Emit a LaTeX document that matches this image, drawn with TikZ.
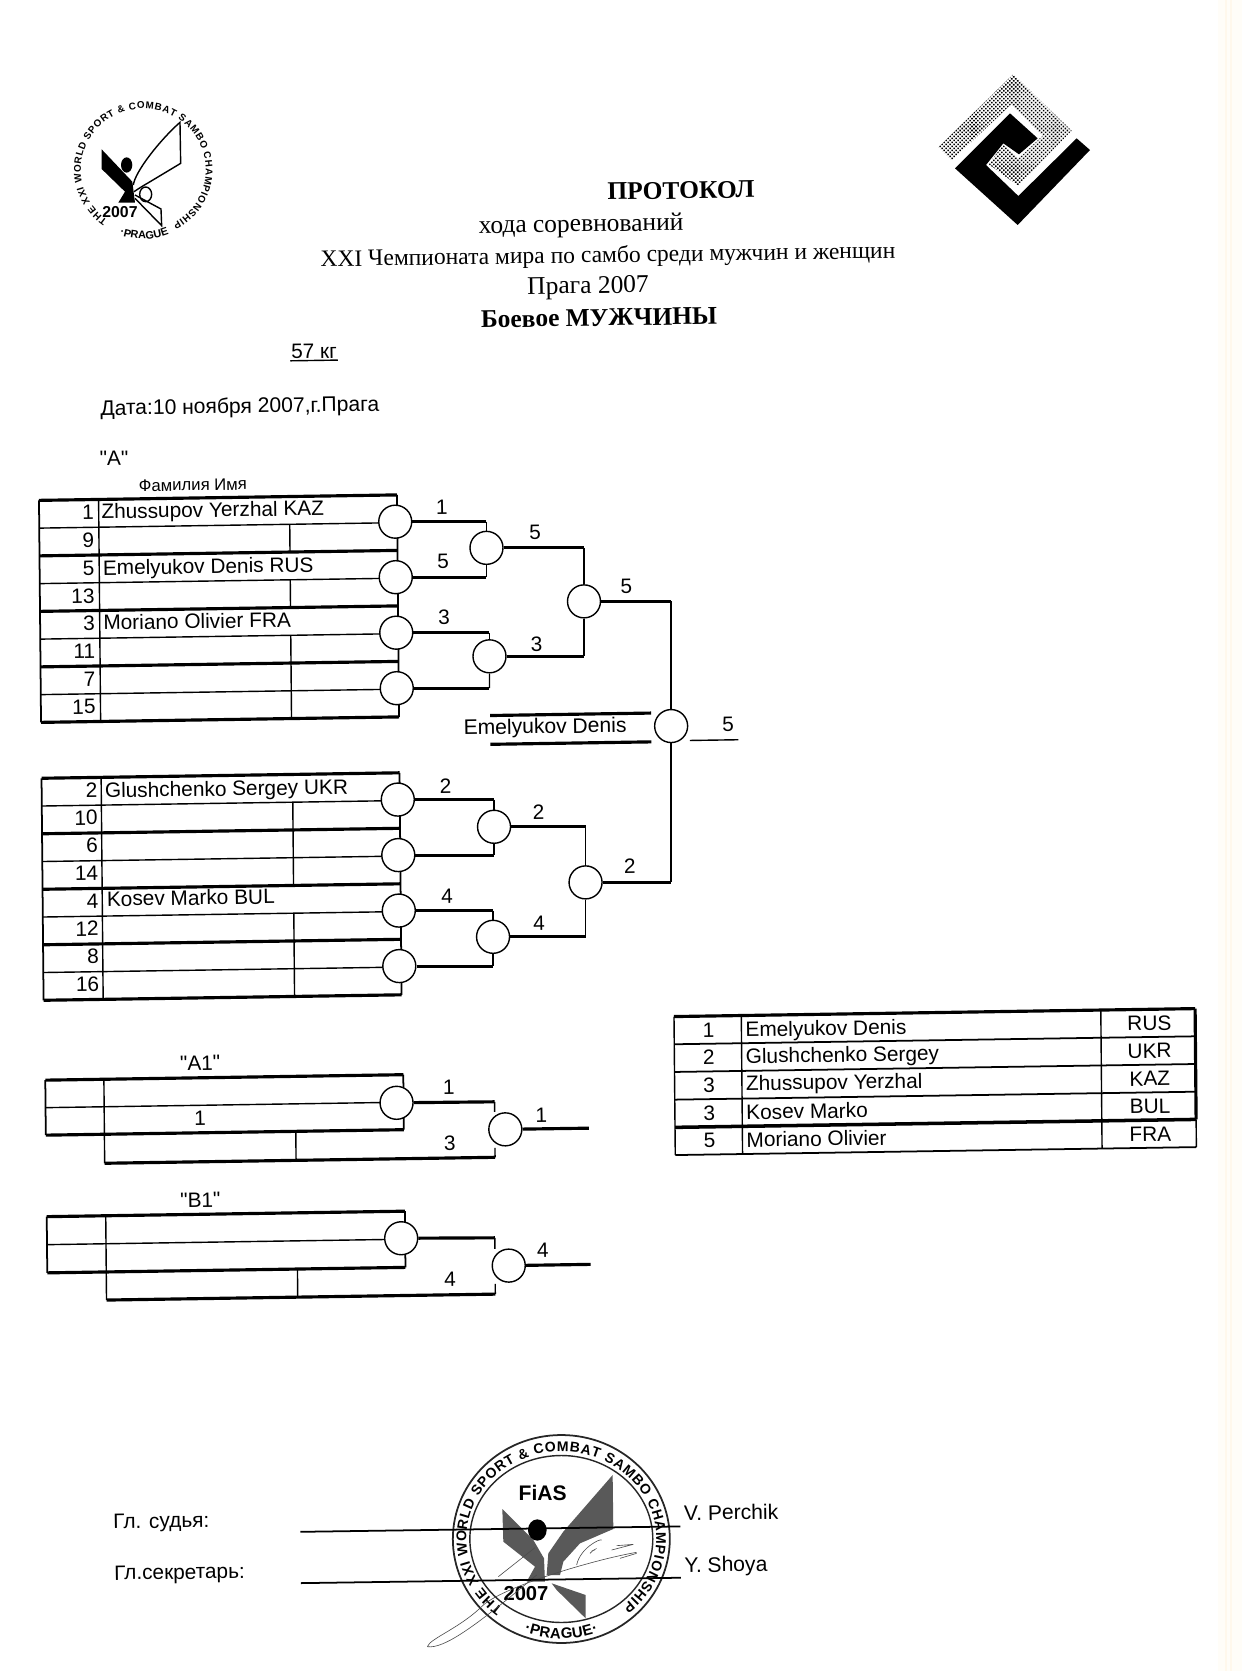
\documentclass[tikz,border=0pt]{standalone}
\usepackage{fontspec}
\defaultfontfeatures[\sffamily]{}
\setmainfont{Liberation Serif}
\setsansfont{Liberation Sans}
\usetikzlibrary{decorations.text, patterns.meta}
\definecolor{cream}{HTML}{FFFDF8}
\definecolor{creamdark}{HTML}{FFF8EC}
\tikzset{
  heavy/.style={line width=1.8pt},
  medium/.style={line width=1pt},
  hair/.style={line width=0.8pt},
  bout/.style={circle, draw, hair, fill=white, minimum size=0.66cm, inner sep=0pt},
  head/.style={font=\fontsize{14.5}{16}\selectfont, inner sep=0pt},
  headbold/.style={font=\bfseries\fontsize{14.5}{16}\selectfont, inner sep=0pt},
  lbl/.style={font=\sffamily\fontsize{11.85}{14}\selectfont, inner sep=0pt},
  wide/.style={font=\sffamily\fontsize{12}{14}\selectfont},
  seed/.style={lbl, anchor=east},
  player/.style={lbl, anchor=west},
  ringtext/.style 2 args={decorate, decoration={text along path, text={|\sffamily\bfseries\fontsize{#1}{#1}\selectfont|#2}, text align={fit to path}}},
  sign/.style={line width=0.35pt, black!70}
}

\begin{document}
\begin{tikzpicture}[x=0.02cm, y=-0.02cm]
  \useasboundingbox (0,0) rectangle (1242,1671);
  \fill[white] (0,0) rectangle (1242,1671);
  \fill[cream] (1218,0) rectangle (1242,1671);
  \fill[creamdark] (1225,0) rectangle (1227,1671);
  \fill[creamdark] (1230,0) rectangle (1232,1671);

  % left emblem
  \begin{scope}[shift={(60,95)}, x=0.00667cm, y=-0.00667cm]
    \path[ringtext={5.6}{THE XXI WORLD SPORT {\&} COMBAT SAMBO CHAMPIONSHIP}] (250,225) ++(235:1.25cm and 1.227cm) arc[start angle=235, end angle=-62, x radius=1.25cm, y radius=1.227cm];
    \path[ringtext={6.2}{·PRAGUE·}] (250,225) ++(250:1.38cm) arc[start angle=250, end angle=292, radius=1.38cm];
    \fill (125,163) -- (217,260) -- (225,323) -- (175,323) -- (195,290) -- (125,222) -- cycle;
    \fill (200,210) ellipse[x radius=0.113cm, y radius=0.153cm];
    \draw[hair] (220,270) .. controls (225,230) and (300,135) .. (360,82) -- (362,205) -- (262,265) .. controls (245,275) .. (222,290);
    \draw[hair] (257,298) ellipse[x radius=0.12cm, y radius=0.147cm];
    \draw[hair] (225,300) -- (303,342) -- (305,392) -- (225,310);
    \node[font=\sffamily\bfseries\fontsize{9}{10}\selectfont, inner sep=0pt] (year) at (180,350) {2007};
  \end{scope}

  % right emblem
  \begin{scope}[shift={(925,60)}, x=0.00667cm, y=-0.00667cm]
    \fill[pattern={Dots[distance=1.6pt, radius=0.62pt, angle=45]}] (40,262) -- (265,42) -- (440,212) -- (280,378) -- (190,312) -- (235,255) -- (280,297) -- (352,228) -- (258,133) -- (80,302) -- cycle;
    \fill (90,325) -- (255,160) -- (338,235) -- (282,283) -- (235,250) -- (183,315) -- (280,408) -- (455,235) -- (495,270) -- (278,495) -- cycle;
  \end{scope}

  % stamp
  \begin{scope}[shift={(420,1425)}, x=0.00667cm, y=-0.00667cm]
    \draw[line width=1pt, black!85] (424,342) ellipse[x radius=2.17cm, y radius=2.08cm];
    \draw[hair, black!85] (424,342) ellipse[x radius=1.83cm, y radius=1.67cm];
    \path[ringtext={8}{THE XXI WORLD SPORT {\&} COMBAT SAMBO CHAMPIONSHIP}] (424,342) ++(232:1.9cm and 1.75cm) arc[start angle=232, end angle=-50, x radius=1.9cm, y radius=1.75cm];
    \path[ringtext={8.5}{·PRAGUE·}] (424,342) ++(249:2.08cm and 1.99cm) arc[start angle=249, end angle=291, x radius=2.08cm, y radius=1.99cm];
    \fill[black!65] (247,252) -- (340,345) -- (372,400) -- (375,470) -- (320,470) -- (345,425) -- (250,350) -- cycle;
    \fill[black!65] (578,150) -- (580,312) -- (480,355) -- (430,410) -- (420,450) -- (380,450) -- (385,385) -- (430,320) -- cycle;
    \fill[black!65] (395,475) -- (497,510) -- (497,580) -- (410,495) -- cycle;
    \fill (352,315) ellipse[x radius=0.187cm, y radius=0.213cm];
    \node[font=\sffamily\bfseries\fontsize{12}{14}\selectfont, inner sep=0pt] (fias) at (368,205) {FiAS};
    \node[font=\sffamily\bfseries\fontsize{11.5}{13}\selectfont, inner sep=0pt] (stampyear) at (318,505) {2007};
    \draw[sign] (22,665) .. controls (30,640) and (120,610) .. (190,540) .. controls (260,480) and (540,400) .. (650,382);
    \draw[sign] (22,665) .. controls (70,672) and (160,610) .. (350,450);
    \draw[sign] (235,455) -- (345,368);
    \draw[sign] (470,420) .. controls (480,370) and (540,340) .. (545,345);
    \draw[sign] (510,385) .. controls (530,365) and (530,375) .. (515,378);
    \draw[sign] (575,375) -- (640,358) -- (590,362);
    \draw[sign] (600,400) -- (650,385);
  \end{scope}

  \begin{scope}[shift={(-7.5,9.3)}, x={(0.02cm,0.0003cm)}, y={(0.00018cm,-0.02cm)}, every node/.append style={rotate=0.86}]
    % titles
    \node[headbold] (title) at (686.7,191.6) {ПРОТОКОЛ};
    \node[head] (course) at (586.5,225.4) {хода соревнований};
    \node[head, font=\fontsize{13.4}{15}\selectfont] (champ) at (613,256.5) {XXI Чемпионата мира по самбо среди мужчин и женщин};
    \node[head] (city) at (593,287.5) {Прага 2007};
    \node[headbold] (kind) at (603.6,317.7) {Боевое МУЖЧИНЫ};
    \node[lbl] (weight) at (318.3,347.1) {57 кг};
    \draw[hair] (294.5,356) -- (342,356);
    \node[lbl, wide, anchor=west] (date) at (103.9,402) {Дата:10 ноября 2007,г.Прага};
    \node[lbl] (pool) at (117.4,451) {"A"};
    \node[lbl, font=\sffamily\fontsize{9.5}{11}\selectfont] (names) at (196,478.6) {Фамилия Имя};

    % the two main tables with their first bouts
    \foreach \grp/\vtop in {a/491.7, b/769.6} {
      \foreach \k in {0,2,4,6,8} \draw[heavy] (42,{\vtop+27.75*\k}) -- (400,{\vtop+27.75*\k});
      \foreach \k in {1,3,5,7} \draw[hair] (42,{\vtop+27.75*\k}) -- (400,{\vtop+27.75*\k});
      \draw[medium] (42,\vtop) -- (42,{\vtop+222});
      \draw[hair] (101.6,\vtop) -- (101.6,{\vtop+222});
      \draw[medium] (400,\vtop) -- (400,{\vtop+222});
      \foreach \k in {1,3,5,7} \node[bout] (\grp\k) at (398,{\vtop+27.75*\k-1}) {};
    }
    \node[bout] (a2) at (489,546) {};
    \node[bout] (a6) at (491,654.5) {};
    \node[bout] (a4) at (586,601) {};
    \node[bout] (b2) at (494,825) {};
    \node[bout] (b6) at (492,935) {};
    \node[bout] (b4) at (585,882) {};
    \draw[hair] (292.5,{491.7+27.75}) -- (292.5,{491.7+55.5});
    \draw[hair] (292.5,{491.7+83.25}) -- (292.5,{491.7+111});
    \draw[hair] (292.5,{491.7+138.75}) -- (292.5,{491.7+222});
    \draw[hair] (293,{769.6+27.75}) -- (293,{769.6+111});
    \draw[hair] (293,{769.6+138.75}) -- (293,{769.6+222});

    \foreach \k/\num in {0/1, 1/9, 2/5, 3/13, 4/3, 5/11, 6/7, 7/15} \node[seed] (seed\num) at (97,{491.7+27.75*(\k+0.5)-1}) {\num};
    \foreach \k/\num in {0/2, 1/10, 2/6, 3/14, 4/4, 5/12, 6/8, 7/16} \node[seed] (seed\num) at (98,{769.6+27.75*(\k+0.5)-1.5}) {\num};

    \node[player] (zhussupov) at (104,505.6) {Zhussupov Yerzhal KAZ};
    \node[player] (emelyukov) at (105,562) {Emelyukov Denis RUS};
    \node[player] (moriano) at (105,614.8) {Moriano Olivier FRA};
    \node[player] (glushchenko) at (105,784.6) {Glushchenko Sergey UKR};
    \node[player] (kosev) at (106,891.2) {Kosev Marko BUL};

    \node[bout] (cfin) at (672,727) {};
    \foreach \from/\to in {a1/a2, a3/a2, a5/a6, a7/a6, a2/a4, a6/a4, a4/cfin, b1/b2, b3/b2, b5/b6, b7/b6, b2/b4, b6/b4, b4/cfin} {
      \draw[heavy] (\from) -- (\from -| \to);
      \draw[hair] (\from -| \to) -- (\to);
    }

    \node[lbl] (w1) at (444.7,504.3) {1};
    \node[lbl] (w2) at (537.7,531.7) {5};
    \node[lbl] (w3) at (445.5,559.3) {5};
    \node[lbl] (w4) at (628.5,587) {5};
    \node[lbl] (w5) at (446,615) {3};
    \node[lbl] (w6) at (538.3,642.7) {3};
    \node[lbl] (w7) at (728.8,726.2) {5};
    \node[lbl] (w8) at (446,783.9) {2};
    \node[lbl] (w9) at (538.7,811) {2};
    \node[lbl] (w10) at (629.3,866.4) {2};
    \node[lbl] (w11) at (446.4,894) {4};
    \node[lbl] (w12) at (538.2,922.2) {4};

    \node[lbl, wide] (winner) at (546,727) {Emelyukov Denis};
    \draw[heavy] (491,713.7) -- (652,713.7);
    \draw[heavy] (491,742.5) -- (652,742.5);
    \draw[hair] (690.5,741.7) -- (739,741.7);

    % repechage A1
    \node[lbl] (pooleA) at (198,1056.7) {"A1"};
    \draw[heavy] (43,1071.5) -- (401,1071.5);
    \draw[hair] (43,1099) -- (394,1099);
    \draw[heavy] (43,1126.5) -- (401,1126.5);
    \draw[medium] (43,1071.5) -- (43,1126.5);
    \draw[hair] (101.6,1071.5) -- (101.6,1155.5);
    \draw[medium] (401,1071.5) -- (401,1126.5);
    \draw[heavy] (101.6,1155.5) -- (492,1155.5);
    \draw[hair] (293,1126.5) -- (293,1155.5);
    \node[bout] (ra1) at (394,1099.5) {};
    \node[bout] (ra2) at (502.5,1127.7) {};
    \coordinate (raout) at (586,1127.8);
    \draw[heavy] (ra1) -- (492,1100);
    \draw[hair] (492,1100) -- (492,1110);
    \draw[hair] (492,1146) -- (492,1155.5);
    \draw[heavy] (ra2) -- (raout);
    \node[lbl] (ra3) at (197.5,1111.7) {1};
    \node[lbl] (ra4) at (446.3,1085) {1};
    \node[lbl] (ra5) at (447,1140.5) {3};
    \node[lbl] (ra6) at (538.5,1113.8) {1};

    % repechage B1
    \node[lbl] (pooleB) at (197,1193.7) {"B1"};
    \draw[heavy] (43.2,1208) -- (401.4,1208);
    \draw[hair] (43.2,1236) -- (397,1236);
    \draw[heavy] (43.2,1264.2) -- (401.4,1264.2);
    \draw[medium] (43.2,1208) -- (43.2,1264.2);
    \draw[hair] (102.2,1208) -- (102.2,1292.3);
    \draw[medium] (401.4,1208) -- (401.4,1264.2);
    \draw[heavy] (102.2,1292.3) -- (491,1292.3);
    \draw[hair] (293.4,1264.2) -- (293.4,1292.3);
    \node[bout] (rb1) at (397.4,1235) {};
    \node[bout] (rb2) at (504.7,1264) {};
    \coordinate (rbout) at (586.6,1264);
    \draw[heavy] (rb1) -- (491,1236);
    \draw[hair] (491,1236) -- (491,1247);
    \draw[hair] (491,1282) -- (491,1292.3);
    \draw[heavy] (rb2) -- (rbout);
    \node[lbl] (rb3) at (539,1249) {4};
    \node[lbl] (rb4) at (446,1276.7) {4};

    % final standings
    \draw[heavy] (672.2,1017.5) -- (1193.3,1017.5);
    \foreach \k in {1,2,3} \draw[medium] (672.2,{1017.5+27.7*\k}) -- (1193.3,{1017.5+27.7*\k});
    \draw[line width=2pt] (672.2,1128.3) -- (1193.3,1128.3);
    \draw[medium] (672.2,1156) -- (1193.3,1156);
    \draw[hair] (672.2,1017.5) -- (672.2,1156);
    \draw[hair] (739.5,1017.5) -- (739.5,1156);
    \draw[hair] (1099,1017.5) -- (1099,1156);
    \draw[heavy] (1193.3,1017.5) -- (1193.3,1128.3);
    \draw[hair] (1193.3,1128.3) -- (1193.3,1156);
    \foreach \k/\place/\who/\nat/\off in {0/1/Emelyukov Denis/RUS/2, 1/2/Glushchenko Sergey/UKR/1, 2/3/Zhussupov Yerzhal/KAZ/0.5, 3/3/Kosev Marko/BUL/-0.5, 4/5/Moriano Olivier/FRA/-0.5} {
      \node[lbl] (place\k) at (706.6,{1031.4+27.7*\k}) {\place};
      \node[player] (who\k) at (743.3,{1031.4+27.7*\k+\off}) {\who};
      \node[lbl] (nat\k) at (1147.4,{1031.4+27.7*\k}) {\nat};
    }

    % signatures
    \node[lbl, anchor=west] (judge) at (106.7,1516) {Гл. судья:};
    \node[lbl, anchor=west] (secretary) at (107,1567.4) {Гл.секретарь:};
    \draw[medium] (294,1527) -- (674,1527.4);
    \draw[medium] (294,1578.3) -- (674,1578.7);
    \node[lbl, wide, anchor=west] (perchik) at (677.4,1514) {V. Perchik};
    \node[lbl, wide, anchor=west] (shoya) at (677.4,1568) {Y. Shoya};
  \end{scope}
\end{tikzpicture}
\end{document}
